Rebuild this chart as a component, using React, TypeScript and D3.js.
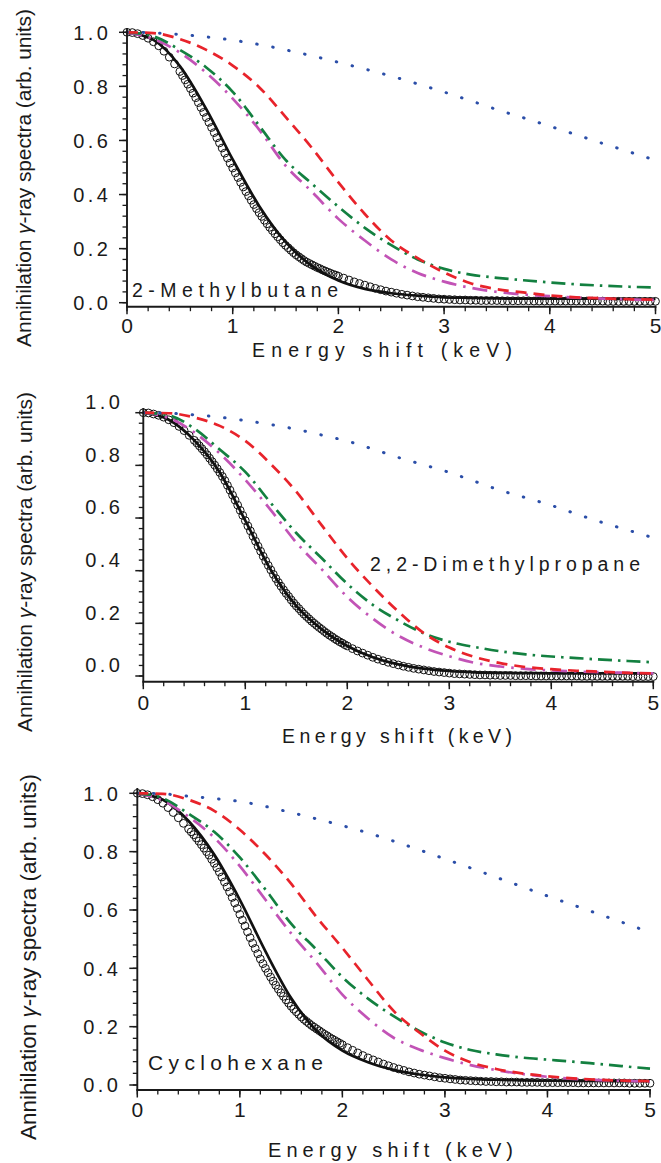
import React from "react";
import * as d3 from "d3";

// ---------- shared grids / ticks ----------
const LINE_E = d3.range(0, 21).map((i) => i * 0.25);
const CIRCLE_E = [
  ...d3.range(0, 10).map((i) => i * 0.05),
  ...d3.range(0, 60).map((i) => 0.5 + i * 0.025),
  ...d3.range(0, 61).map((i) => 2 + i * 0.05),
];
const X_TICKS = [0, 1, 2, 3, 4, 5];
const X_MINOR = d3.range(0, 26).map((i) => i * 0.2);
const Y_TICKS = [0, 0.2, 0.4, 0.6, 0.8, 1.0];
const Y_TICK_LABELS = ["0.0", "0.2", "0.4", "0.6", "0.8", "1.0"];
const Y_MINOR = d3.range(0, 26).map((i) => i * 0.04);

// ---------- Panel 1: 2-Methylbutane ----------
const MB_CIRCLES = [
  1.0, 0.999, 0.995, 0.988, 0.978, 0.965, 0.95, 0.93, 0.908, 0.883,
  0.855, 0.84, 0.824, 0.808, 0.792, 0.775, 0.758, 0.74, 0.722, 0.704,
  0.685, 0.667, 0.648, 0.629, 0.61, 0.591, 0.572, 0.553, 0.535, 0.516,
  0.498, 0.48, 0.463, 0.445, 0.428, 0.411, 0.395, 0.379, 0.363, 0.348,
  0.333, 0.319, 0.305, 0.292, 0.279, 0.267, 0.255, 0.244, 0.233, 0.222,
  0.212, 0.203, 0.194, 0.185, 0.177, 0.17, 0.163, 0.156, 0.15, 0.145,
  0.14, 0.135, 0.13, 0.126, 0.121, 0.117, 0.113, 0.109, 0.105, 0.102,
  0.098, 0.091, 0.084, 0.077, 0.071, 0.065, 0.059, 0.053, 0.048, 0.043,
  0.039, 0.035, 0.031, 0.028, 0.025, 0.022, 0.02, 0.018, 0.016, 0.014,
  0.013, 0.012, 0.011, 0.01, 0.01, 0.009, 0.009, 0.008, 0.008, 0.008,
  0.008, 0.007, 0.007, 0.007, 0.007, 0.007, 0.007, 0.006, 0.006, 0.006,
  0.006, 0.006, 0.006, 0.006, 0.006, 0.006, 0.006, 0.006, 0.006, 0.006,
  0.006, 0.005, 0.005, 0.005, 0.005, 0.005, 0.005, 0.005, 0.005, 0.005, 0.005,
];
const MB_SOLID = [1.0, 0.972, 0.875, 0.716, 0.53, 0.358, 0.225, 0.136, 0.082, 0.051, 0.035, 0.026, 0.02, 0.018, 0.016, 0.015, 0.015, 0.015, 0.015, 0.014, 0.014];
const MB_BLUE = [1.0, 0.998, 0.992, 0.983, 0.971, 0.955, 0.935, 0.913, 0.889, 0.864, 0.838, 0.809, 0.779, 0.747, 0.714, 0.684, 0.653, 0.621, 0.589, 0.558, 0.527];
const MB_RED = [1.0, 0.997, 0.975, 0.935, 0.877, 0.797, 0.687, 0.572, 0.445, 0.328, 0.23, 0.165, 0.112, 0.072, 0.05, 0.038, 0.027, 0.02, 0.016, 0.013, 0.011];
const MB_GREEN = [1.0, 0.985, 0.935, 0.87, 0.78, 0.655, 0.528, 0.44, 0.355, 0.277, 0.213, 0.16, 0.125, 0.104, 0.092, 0.083, 0.075, 0.068, 0.063, 0.059, 0.056];
const MB_MAGENTA = [1.0, 0.975, 0.925, 0.85, 0.755, 0.64, 0.507, 0.41, 0.31, 0.23, 0.16, 0.11, 0.078, 0.055, 0.04, 0.03, 0.024, 0.019, 0.015, 0.012, 0.01];

// ---------- Panel 2: 2,2-Dimethylpropane ----------
const DMP_CIRCLES = [
  1.0, 0.999, 0.995, 0.99, 0.983, 0.973, 0.962, 0.948, 0.932, 0.914,
  0.895, 0.885, 0.874, 0.863, 0.852, 0.84, 0.827, 0.814, 0.801, 0.787,
  0.773, 0.758, 0.742, 0.724, 0.706, 0.687, 0.668, 0.649, 0.629, 0.61,
  0.59, 0.57, 0.551, 0.531, 0.512, 0.493, 0.474, 0.455, 0.437, 0.42,
  0.403, 0.386, 0.37, 0.355, 0.341, 0.327, 0.314, 0.302, 0.289, 0.277,
  0.266, 0.256, 0.245, 0.235, 0.226, 0.217, 0.208, 0.2, 0.192, 0.184,
  0.177, 0.169, 0.162, 0.155, 0.149, 0.142, 0.136, 0.13, 0.125, 0.119,
  0.114, 0.104, 0.095, 0.087, 0.079, 0.071, 0.064, 0.058, 0.052, 0.047,
  0.042, 0.037, 0.033, 0.029, 0.026, 0.023, 0.02, 0.017, 0.015, 0.013,
  0.011, 0.009, 0.008, 0.007, 0.006, 0.005, 0.004, 0.004, 0.003, 0.003,
  0.002, 0.002, 0.002, 0.001, 0.001, 0.001, 0.001, 0.0, 0.0, 0.0,
  0.0, 0.0, 0.0, 0.0, 0.0, 0.0, -0.001, -0.001, -0.001, -0.001,
  -0.001, -0.001, -0.001, -0.001, -0.001, -0.001, -0.002, -0.002, -0.002, -0.002, -0.002,
];
const DMP_SOLID = [1.0, 0.973, 0.895, 0.773, 0.59, 0.403, 0.266, 0.177, 0.114, 0.071, 0.044, 0.028, 0.019, 0.014, 0.012, 0.011, 0.01, 0.01, 0.01, 0.01, 0.01];
const DMP_BLUE = [1.0, 0.998, 0.992, 0.983, 0.97, 0.955, 0.937, 0.915, 0.892, 0.862, 0.83, 0.802, 0.773, 0.739, 0.705, 0.677, 0.648, 0.615, 0.583, 0.554, 0.525];
const DMP_RED = [1.0, 0.998, 0.982, 0.95, 0.893, 0.805, 0.7, 0.572, 0.447, 0.34, 0.245, 0.163, 0.108, 0.072, 0.049, 0.034, 0.026, 0.02, 0.016, 0.012, 0.01];
const DMP_GREEN = [1.0, 0.99, 0.94, 0.86, 0.775, 0.657, 0.543, 0.447, 0.35, 0.27, 0.211, 0.162, 0.13, 0.11, 0.094, 0.082, 0.074, 0.068, 0.062, 0.057, 0.052];
const DMP_MAGENTA = [1.0, 0.98, 0.925, 0.845, 0.745, 0.63, 0.507, 0.405, 0.3, 0.218, 0.153, 0.108, 0.075, 0.05, 0.036, 0.027, 0.021, 0.017, 0.014, 0.012, 0.01];

// ---------- Panel 3: Cyclohexane ----------
const CH_CIRCLES = [
  1.0, 0.999, 0.995, 0.988, 0.978, 0.966, 0.951, 0.934, 0.916, 0.897,
  0.878, 0.868, 0.858, 0.847, 0.836, 0.824, 0.812, 0.8, 0.788, 0.774,
  0.76, 0.745, 0.73, 0.713, 0.696, 0.679, 0.662, 0.643, 0.624, 0.605,
  0.585, 0.565, 0.545, 0.525, 0.505, 0.486, 0.468, 0.45, 0.432, 0.416,
  0.4, 0.385, 0.37, 0.356, 0.342, 0.329, 0.316, 0.304, 0.292, 0.281,
  0.27, 0.26, 0.251, 0.242, 0.233, 0.225, 0.218, 0.211, 0.204, 0.198,
  0.192, 0.186, 0.18, 0.174, 0.169, 0.163, 0.158, 0.153, 0.148, 0.143,
  0.138, 0.128, 0.119, 0.11, 0.101, 0.093, 0.086, 0.079, 0.072, 0.066,
  0.06, 0.055, 0.05, 0.045, 0.041, 0.037, 0.034, 0.031, 0.028, 0.025,
  0.023, 0.021, 0.019, 0.017, 0.016, 0.015, 0.014, 0.013, 0.012, 0.012,
  0.011, 0.011, 0.01, 0.01, 0.01, 0.009, 0.009, 0.009, 0.009, 0.008,
  0.008, 0.008, 0.008, 0.008, 0.008, 0.008, 0.007, 0.007, 0.007, 0.007,
  0.007, 0.007, 0.007, 0.007, 0.007, 0.007, 0.006, 0.006, 0.006, 0.006, 0.006,
];
const CH_SOLID = [1.0, 0.978, 0.905, 0.79, 0.635, 0.458, 0.298, 0.185, 0.118, 0.078, 0.052, 0.036, 0.026, 0.021, 0.018, 0.016, 0.015, 0.014, 0.014, 0.013, 0.013];
const CH_BLUE = [1.0, 0.998, 0.99, 0.982, 0.972, 0.955, 0.934, 0.912, 0.889, 0.864, 0.836, 0.806, 0.775, 0.744, 0.712, 0.68, 0.648, 0.617, 0.586, 0.555, 0.523];
const CH_RED = [1.0, 0.998, 0.978, 0.94, 0.875, 0.79, 0.69, 0.575, 0.47, 0.36, 0.254, 0.18, 0.118, 0.078, 0.055, 0.04, 0.03, 0.023, 0.018, 0.015, 0.013];
const CH_GREEN = [1.0, 0.983, 0.93, 0.868, 0.78, 0.67, 0.553, 0.463, 0.37, 0.296, 0.236, 0.185, 0.146, 0.12, 0.105, 0.094, 0.087, 0.08, 0.072, 0.064, 0.056];
const CH_MAGENTA = [1.0, 0.975, 0.92, 0.848, 0.75, 0.635, 0.52, 0.418, 0.31, 0.228, 0.162, 0.122, 0.092, 0.068, 0.051, 0.038, 0.028, 0.021, 0.017, 0.014, 0.012];

const Y_TITLE = "Annihilation ";
const Y_TITLE_GREEK = "\u03b3";
const Y_TITLE_REST = "-ray spectra (arb. units)";
const X_TITLE = "Energy shift (keV)";

const COLORS = { blue: "#2b4ea8", red: "#e8232b", green: "#138040", magenta: "#c253b6", black: "#111" };
const FONT = "'Liberation Sans', Arial, Helvetica, sans-serif";

const PANELS = [
  {
    name: "2-Methylbutane",
    data: { circles: MB_CIRCLES, solid: MB_SOLID, blue: MB_BLUE, red: MB_RED, green: MB_GREEN, magenta: MB_MAGENTA },
    L: {
      x0: 127, x5: 655.5, yZero: 302.7, yOne: 32.3, axisY: 306.7, axisTop: 28,
      yLabEnd: 108, yLabDy: 0, xLabBase: 333,
      yTitle: { x: 31, y: 178, size: 21, len: 338 },
      xTitle: { x1: 252, x2: 512, base: 357, size: 19.5 },
      name: { x1: 132, x2: 338, base: 297, size: 19.5 },
    },
  },
  {
    name: "2,2-Dimethylpropane",
    data: { circles: DMP_CIRCLES, solid: DMP_SOLID, blue: DMP_BLUE, red: DMP_RED, green: DMP_GREEN, magenta: DMP_MAGENTA },
    L: {
      x0: 143.3, x5: 653.3, yZero: 676, yOne: 412.7, axisY: 681.7, axisTop: 408,
      yLabEnd: 120, yLabDy: -11, xLabBase: 710,
      yTitle: { x: 32, y: 562, size: 21, len: 340 },
      xTitle: { x1: 282, x2: 512, base: 743, size: 19.5 },
      name: { x1: 370, x2: 640, base: 571, size: 19.5 },
    },
  },
  {
    name: "Cyclohexane",
    data: { circles: CH_CIRCLES, solid: CH_SOLID, blue: CH_BLUE, red: CH_RED, green: CH_GREEN, magenta: CH_MAGENTA },
    L: {
      x0: 137.3, x5: 650, yZero: 1085, yOne: 793.3, axisY: 1090, axisTop: 788,
      yLabEnd: 118, yLabDy: 0, xLabBase: 1117,
      yTitle: { x: 36, y: 957, size: 22.5, len: 366 },
      xTitle: { x1: 268, x2: 513, base: 1157, size: 20 },
      name: { x1: 148, x2: 323, base: 1070, size: 21 },
    },
  },
];

function Panel({ p }: { p: (typeof PANELS)[number] }) {
  const { L, data } = p;
  const x = d3.scaleLinear().domain([0, 5]).range([L.x0, L.x5]);
  const y = d3.scaleLinear().domain([0, 1]).range([L.yZero, L.yOne]);
  const line = (vals: number[]) =>
    d3
      .line<number>()
      .x((_, i) => x(LINE_E[i]))
      .y((d) => y(d))
      .curve(d3.curveMonotoneX)(vals.slice(0, LINE_E.length)) || "";
  const nC = Math.min(CIRCLE_E.length, data.circles.length);
  const circles = d3.range(0, nC).map((i) => ({ e: CIRCLE_E[i], v: data.circles[i] }));

  return (
    <g>
      {/* open circles (experiment) */}
      <g fill="none" stroke="#111" strokeWidth={1.0}>
        {circles.map((c, i) => (
          <circle key={i} cx={x(c.e)} cy={y(c.v)} r={3.9} />
        ))}
      </g>
      {/* theory lines */}
      <path d={line(data.solid)} fill="none" stroke={COLORS.black} strokeWidth={2.7} />
      <path d={line(data.magenta)} fill="none" stroke={COLORS.magenta} strokeWidth={2.7} strokeDasharray="15 7 2.5 7" />
      <path d={line(data.green)} fill="none" stroke={COLORS.green} strokeWidth={2.7} strokeDasharray="14 6 2.5 6" />
      <path d={line(data.red)} fill="none" stroke={COLORS.red} strokeWidth={2.7} strokeDasharray="11 7" />
      <path d={line(data.blue)} fill="none" stroke={COLORS.blue} strokeWidth={3} strokeDasharray="0.5 15.8" strokeLinecap="round" />

      {/* axes */}
      <g stroke="#1a1a1a" fill="none">
        <line x1={L.x0} x2={L.x0} y1={L.axisTop} y2={L.axisY} strokeWidth={1.9} />
        <line x1={L.x0 - 0.95} x2={x(5) + 1} y1={L.axisY} y2={L.axisY} strokeWidth={1.9} />
        {X_MINOR.map((t, i) => (
          <line key={"xm" + i} x1={x(t)} x2={x(t)} y1={L.axisY} y2={L.axisY + 4.5} strokeWidth={1.3} />
        ))}
        {X_TICKS.map((t) => (
          <line key={"xM" + t} x1={x(t)} x2={x(t)} y1={L.axisY} y2={L.axisY + 7.5} strokeWidth={1.5} />
        ))}
        {Y_MINOR.map((t, i) => (
          <line key={"ym" + i} x1={L.x0 - 4.5} x2={L.x0} y1={y(t)} y2={y(t)} strokeWidth={1.3} />
        ))}
        {Y_TICKS.map((t) => (
          <line key={"yM" + t} x1={L.x0 - 8} x2={L.x0} y1={y(t)} y2={y(t)} strokeWidth={1.5} />
        ))}
      </g>

      {/* tick labels */}
      <g fontFamily={FONT} fill="#1a1a1a">
        {Y_TICKS.map((t, i) => (
          <text
            key={"yl" + t}
            x={L.yLabEnd}
            y={y(t) + L.yLabDy + 7.2}
            textAnchor="end"
            fontSize={20}
            letterSpacing={3.5}
            dx={3.5}
          >
            {Y_TICK_LABELS[i]}
          </text>
        ))}
        {X_TICKS.map((t) => (
          <text key={"xl" + t} x={x(t)} y={L.xLabBase} textAnchor="middle" fontSize={21}>
            {String(t)}
          </text>
        ))}
      </g>

      {/* axis titles */}
      <text
        transform={`translate(${L.yTitle.x},${L.yTitle.y}) rotate(-90)`}
        textAnchor="middle"
        fontFamily={FONT}
        fontSize={L.yTitle.size}
        fill="#1a1a1a"
        textLength={L.yTitle.len}
        lengthAdjust="spacing"
      >
        {Y_TITLE}
        <tspan fontStyle="italic">{Y_TITLE_GREEK}</tspan>
        {Y_TITLE_REST}
      </text>
      <text
        x={L.xTitle.x1}
        y={L.xTitle.base}
        fontFamily={FONT}
        fontSize={L.xTitle.size}
        fill="#1a1a1a"
        textLength={L.xTitle.x2 - L.xTitle.x1}
        lengthAdjust="spacing"
      >
        {X_TITLE}
      </text>
      <text
        x={L.name.x1}
        y={L.name.base}
        fontFamily={FONT}
        fontSize={L.name.size}
        fill="#1a1a1a"
        textLength={L.name.x2 - L.name.x1}
        lengthAdjust="spacing"
      >
        {p.name}
      </text>
    </g>
  );
}

export default function App() {
  return (
    <svg
      width={661}
      height={1163}
      viewBox="0 0 661 1163"
      style={{ position: "absolute", left: 0, top: 0, background: "#fff" }}
    >
      <rect x={0} y={0} width={661} height={1163} fill="#fff" />
      {PANELS.map((p) => (
        <Panel key={p.name} p={p} />
      ))}
    </svg>
  );
}
